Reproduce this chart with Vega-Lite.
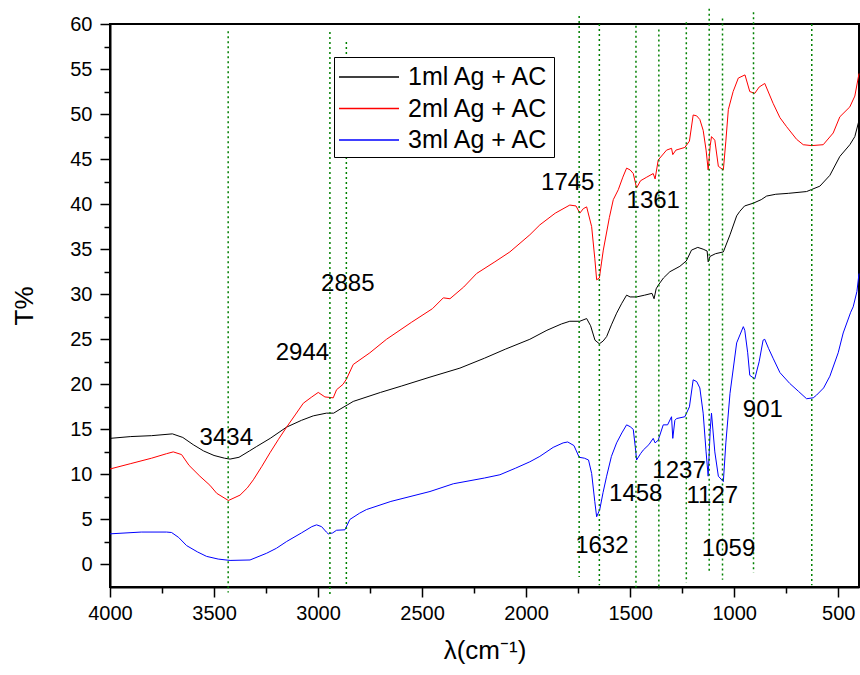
{
"$schema": "https://vega.github.io/schema/vega-lite/v6.json",
"width": 749, "height": 563,
"autosize": {"type": "none"},
"padding": {"left": 110, "top": 24, "right": 1, "bottom": 88},
"background": "white",
"config": {
  "view": {"stroke": "black", "strokeWidth": 2},
  "font": "Liberation Sans",
  "axis": {"grid": false, "labelFont": "Liberation Sans", "titleFont": "Liberation Sans", "labelColor": "black", "titleColor": "black", "tickColor": "black", "domainColor": "black", "labelFlush": false, "labelOverlap": false}
},
"datasets": {
"spectra": [
{"s":"1ml Ag + AC","wn":4000,"T":14.0},{"s":"1ml Ag + AC","wn":3900,"T":14.2},{"s":"1ml Ag + AC","wn":3800,"T":14.3},{"s":"1ml Ag + AC","wn":3700,"T":14.5},{"s":"1ml Ag + AC","wn":3650,"T":14.1},{"s":"1ml Ag + AC","wn":3600,"T":13.3},{"s":"1ml Ag + AC","wn":3550,"T":12.6},{"s":"1ml Ag + AC","wn":3500,"T":12.1},{"s":"1ml Ag + AC","wn":3450,"T":11.8},{"s":"1ml Ag + AC","wn":3423,"T":11.7},{"s":"1ml Ag + AC","wn":3380,"T":11.9},{"s":"1ml Ag + AC","wn":3330,"T":12.6},{"s":"1ml Ag + AC","wn":3295,"T":13.1},{"s":"1ml Ag + AC","wn":3230,"T":14.0},{"s":"1ml Ag + AC","wn":3151,"T":15.25},{"s":"1ml Ag + AC","wn":3080,"T":16.0},{"s":"1ml Ag + AC","wn":3023,"T":16.5},{"s":"1ml Ag + AC","wn":2960,"T":16.8},{"s":"1ml Ag + AC","wn":2925,"T":16.8},{"s":"1ml Ag + AC","wn":2890,"T":17.3},{"s":"1ml Ag + AC","wn":2860,"T":17.7},{"s":"1ml Ag + AC","wn":2831,"T":18.1},{"s":"1ml Ag + AC","wn":2700,"T":19.1},{"s":"1ml Ag + AC","wn":2600,"T":19.8},{"s":"1ml Ag + AC","wn":2462,"T":20.8},{"s":"1ml Ag + AC","wn":2318,"T":21.8},{"s":"1ml Ag + AC","wn":2200,"T":22.9},{"s":"1ml Ag + AC","wn":2100,"T":23.9},{"s":"1ml Ag + AC","wn":1982,"T":25.0},{"s":"1ml Ag + AC","wn":1900,"T":26.0},{"s":"1ml Ag + AC","wn":1830,"T":26.7},{"s":"1ml Ag + AC","wn":1790,"T":27.0},{"s":"1ml Ag + AC","wn":1742,"T":27.0},{"s":"1ml Ag + AC","wn":1709,"T":27.3},{"s":"1ml Ag + AC","wn":1690,"T":26.5},{"s":"1ml Ag + AC","wn":1669,"T":24.9},{"s":"1ml Ag + AC","wn":1648,"T":24.5},{"s":"1ml Ag + AC","wn":1630,"T":24.8},{"s":"1ml Ag + AC","wn":1613,"T":25.3},{"s":"1ml Ag + AC","wn":1590,"T":26.6},{"s":"1ml Ag + AC","wn":1565,"T":27.9},{"s":"1ml Ag + AC","wn":1540,"T":29.0},{"s":"1ml Ag + AC","wn":1517,"T":29.9},{"s":"1ml Ag + AC","wn":1500,"T":29.7},{"s":"1ml Ag + AC","wn":1469,"T":29.7},{"s":"1ml Ag + AC","wn":1430,"T":29.9},{"s":"1ml Ag + AC","wn":1395,"T":30.1},{"s":"1ml Ag + AC","wn":1385,"T":29.5},{"s":"1ml Ag + AC","wn":1375,"T":30.6},{"s":"1ml Ag + AC","wn":1365,"T":31.0},{"s":"1ml Ag + AC","wn":1340,"T":31.8},{"s":"1ml Ag + AC","wn":1309,"T":32.5},{"s":"1ml Ag + AC","wn":1261,"T":33.1},{"s":"1ml Ag + AC","wn":1230,"T":33.7},{"s":"1ml Ag + AC","wn":1205,"T":34.9},{"s":"1ml Ag + AC","wn":1175,"T":35.2},{"s":"1ml Ag + AC","wn":1149,"T":35.0},{"s":"1ml Ag + AC","wn":1130,"T":34.8},{"s":"1ml Ag + AC","wn":1125,"T":33.6},{"s":"1ml Ag + AC","wn":1116,"T":34.2},{"s":"1ml Ag + AC","wn":1090,"T":34.5},{"s":"1ml Ag + AC","wn":1052,"T":34.7},{"s":"1ml Ag + AC","wn":1020,"T":36.6},{"s":"1ml Ag + AC","wn":988,"T":38.7},{"s":"1ml Ag + AC","wn":973,"T":39.2},{"s":"1ml Ag + AC","wn":950,"T":39.8},{"s":"1ml Ag + AC","wn":909,"T":40.1},{"s":"1ml Ag + AC","wn":870,"T":40.5},{"s":"1ml Ag + AC","wn":844,"T":40.9},{"s":"1ml Ag + AC","wn":800,"T":41.1},{"s":"1ml Ag + AC","wn":740,"T":41.2},{"s":"1ml Ag + AC","wn":652,"T":41.4},{"s":"1ml Ag + AC","wn":588,"T":42.0},{"s":"1ml Ag + AC","wn":540,"T":43.2},{"s":"1ml Ag + AC","wn":492,"T":45.3},{"s":"1ml Ag + AC","wn":444,"T":46.6},{"s":"1ml Ag + AC","wn":420,"T":47.5},{"s":"1ml Ag + AC","wn":400,"T":49.3},
{"s":"2ml Ag + AC","wn":4000,"T":10.6},{"s":"2ml Ag + AC","wn":3900,"T":11.2},{"s":"2ml Ag + AC","wn":3800,"T":11.8},{"s":"2ml Ag + AC","wn":3728,"T":12.3},{"s":"2ml Ag + AC","wn":3696,"T":12.5},{"s":"2ml Ag + AC","wn":3656,"T":12.2},{"s":"2ml Ag + AC","wn":3620,"T":11.0},{"s":"2ml Ag + AC","wn":3568,"T":9.8},{"s":"2ml Ag + AC","wn":3520,"T":8.8},{"s":"2ml Ag + AC","wn":3487,"T":7.9},{"s":"2ml Ag + AC","wn":3431,"T":7.1},{"s":"2ml Ag + AC","wn":3375,"T":7.7},{"s":"2ml Ag + AC","wn":3340,"T":8.5},{"s":"2ml Ag + AC","wn":3311,"T":9.4},{"s":"2ml Ag + AC","wn":3270,"T":10.9},{"s":"2ml Ag + AC","wn":3231,"T":12.4},{"s":"2ml Ag + AC","wn":3190,"T":13.9},{"s":"2ml Ag + AC","wn":3151,"T":15.25},{"s":"2ml Ag + AC","wn":3110,"T":16.6},{"s":"2ml Ag + AC","wn":3071,"T":17.9},{"s":"2ml Ag + AC","wn":3030,"T":18.6},{"s":"2ml Ag + AC","wn":2999,"T":19.1},{"s":"2ml Ag + AC","wn":2967,"T":18.6},{"s":"2ml Ag + AC","wn":2927,"T":18.5},{"s":"2ml Ag + AC","wn":2911,"T":19.4},{"s":"2ml Ag + AC","wn":2880,"T":20.0},{"s":"2ml Ag + AC","wn":2863,"T":20.6},{"s":"2ml Ag + AC","wn":2831,"T":22.2},{"s":"2ml Ag + AC","wn":2751,"T":23.5},{"s":"2ml Ag + AC","wn":2671,"T":25.0},{"s":"2ml Ag + AC","wn":2550,"T":26.9},{"s":"2ml Ag + AC","wn":2450,"T":28.4},{"s":"2ml Ag + AC","wn":2398,"T":29.6},{"s":"2ml Ag + AC","wn":2366,"T":29.5},{"s":"2ml Ag + AC","wn":2300,"T":30.8},{"s":"2ml Ag + AC","wn":2238,"T":32.3},{"s":"2ml Ag + AC","wn":2150,"T":33.6},{"s":"2ml Ag + AC","wn":2078,"T":34.7},{"s":"2ml Ag + AC","wn":1982,"T":36.6},{"s":"2ml Ag + AC","wn":1934,"T":37.7},{"s":"2ml Ag + AC","wn":1860,"T":39.0},{"s":"2ml Ag + AC","wn":1790,"T":39.9},{"s":"2ml Ag + AC","wn":1760,"T":39.8},{"s":"2ml Ag + AC","wn":1742,"T":39.0},{"s":"2ml Ag + AC","wn":1725,"T":39.5},{"s":"2ml Ag + AC","wn":1709,"T":39.7},{"s":"2ml Ag + AC","wn":1685,"T":37.5},{"s":"2ml Ag + AC","wn":1670,"T":34.0},{"s":"2ml Ag + AC","wn":1661,"T":31.6},{"s":"2ml Ag + AC","wn":1648,"T":31.8},{"s":"2ml Ag + AC","wn":1629,"T":34.9},{"s":"2ml Ag + AC","wn":1600,"T":38.5},{"s":"2ml Ag + AC","wn":1581,"T":40.5},{"s":"2ml Ag + AC","wn":1557,"T":41.6},{"s":"2ml Ag + AC","wn":1535,"T":43.0},{"s":"2ml Ag + AC","wn":1517,"T":44.0},{"s":"2ml Ag + AC","wn":1500,"T":43.8},{"s":"2ml Ag + AC","wn":1485,"T":43.4},{"s":"2ml Ag + AC","wn":1469,"T":41.8},{"s":"2ml Ag + AC","wn":1450,"T":42.6},{"s":"2ml Ag + AC","wn":1420,"T":43.0},{"s":"2ml Ag + AC","wn":1389,"T":43.4},{"s":"2ml Ag + AC","wn":1380,"T":42.8},{"s":"2ml Ag + AC","wn":1365,"T":44.9},{"s":"2ml Ag + AC","wn":1325,"T":46.0},{"s":"2ml Ag + AC","wn":1301,"T":46.2},{"s":"2ml Ag + AC","wn":1295,"T":45.5},{"s":"2ml Ag + AC","wn":1280,"T":46.0},{"s":"2ml Ag + AC","wn":1237,"T":46.3},{"s":"2ml Ag + AC","wn":1215,"T":47.0},{"s":"2ml Ag + AC","wn":1197,"T":49.9},{"s":"2ml Ag + AC","wn":1180,"T":49.8},{"s":"2ml Ag + AC","wn":1165,"T":49.4},{"s":"2ml Ag + AC","wn":1149,"T":48.2},{"s":"2ml Ag + AC","wn":1135,"T":46.0},{"s":"2ml Ag + AC","wn":1125,"T":43.8},{"s":"2ml Ag + AC","wn":1115,"T":46.5},{"s":"2ml Ag + AC","wn":1109,"T":47.5},{"s":"2ml Ag + AC","wn":1093,"T":47.1},{"s":"2ml Ag + AC","wn":1076,"T":44.2},{"s":"2ml Ag + AC","wn":1052,"T":43.8},{"s":"2ml Ag + AC","wn":1040,"T":47.0},{"s":"2ml Ag + AC","wn":1028,"T":50.5},{"s":"2ml Ag + AC","wn":1005,"T":52.5},{"s":"2ml Ag + AC","wn":980,"T":54.0},{"s":"2ml Ag + AC","wn":948,"T":54.35},{"s":"2ml Ag + AC","wn":925,"T":52.5},{"s":"2ml Ag + AC","wn":901,"T":52.3},{"s":"2ml Ag + AC","wn":880,"T":53.0},{"s":"2ml Ag + AC","wn":853,"T":53.4},{"s":"2ml Ag + AC","wn":813,"T":51.2},{"s":"2ml Ag + AC","wn":780,"T":49.6},{"s":"2ml Ag + AC","wn":748,"T":48.6},{"s":"2ml Ag + AC","wn":700,"T":47.2},{"s":"2ml Ag + AC","wn":668,"T":46.6},{"s":"2ml Ag + AC","wn":628,"T":46.5},{"s":"2ml Ag + AC","wn":572,"T":46.6},{"s":"2ml Ag + AC","wn":524,"T":47.9},{"s":"2ml Ag + AC","wn":492,"T":49.7},{"s":"2ml Ag + AC","wn":444,"T":50.8},{"s":"2ml Ag + AC","wn":420,"T":52.0},{"s":"2ml Ag + AC","wn":400,"T":54.5},
{"s":"3ml Ag + AC","wn":4000,"T":3.4},{"s":"3ml Ag + AC","wn":3850,"T":3.6},{"s":"3ml Ag + AC","wn":3728,"T":3.6},{"s":"3ml Ag + AC","wn":3704,"T":3.55},{"s":"3ml Ag + AC","wn":3670,"T":3.0},{"s":"3ml Ag + AC","wn":3632,"T":2.1},{"s":"3ml Ag + AC","wn":3580,"T":1.4},{"s":"3ml Ag + AC","wn":3536,"T":0.9},{"s":"3ml Ag + AC","wn":3480,"T":0.6},{"s":"3ml Ag + AC","wn":3423,"T":0.45},{"s":"3ml Ag + AC","wn":3327,"T":0.5},{"s":"3ml Ag + AC","wn":3247,"T":1.25},{"s":"3ml Ag + AC","wn":3200,"T":1.8},{"s":"3ml Ag + AC","wn":3151,"T":2.55},{"s":"3ml Ag + AC","wn":3080,"T":3.5},{"s":"3ml Ag + AC","wn":3030,"T":4.2},{"s":"3ml Ag + AC","wn":3007,"T":4.4},{"s":"3ml Ag + AC","wn":2983,"T":4.2},{"s":"3ml Ag + AC","wn":2960,"T":3.6},{"s":"3ml Ag + AC","wn":2951,"T":3.4},{"s":"3ml Ag + AC","wn":2930,"T":3.5},{"s":"3ml Ag + AC","wn":2911,"T":3.8},{"s":"3ml Ag + AC","wn":2871,"T":3.85},{"s":"3ml Ag + AC","wn":2847,"T":5.0},{"s":"3ml Ag + AC","wn":2800,"T":5.7},{"s":"3ml Ag + AC","wn":2767,"T":6.1},{"s":"3ml Ag + AC","wn":2650,"T":7.0},{"s":"3ml Ag + AC","wn":2462,"T":8.1},{"s":"3ml Ag + AC","wn":2350,"T":8.96},{"s":"3ml Ag + AC","wn":2200,"T":9.6},{"s":"3ml Ag + AC","wn":2126,"T":9.96},{"s":"3ml Ag + AC","wn":2050,"T":10.7},{"s":"3ml Ag + AC","wn":1982,"T":11.4},{"s":"3ml Ag + AC","wn":1934,"T":12.0},{"s":"3ml Ag + AC","wn":1870,"T":13.0},{"s":"3ml Ag + AC","wn":1822,"T":13.5},{"s":"3ml Ag + AC","wn":1800,"T":13.6},{"s":"3ml Ag + AC","wn":1770,"T":13.2},{"s":"3ml Ag + AC","wn":1745,"T":11.9},{"s":"3ml Ag + AC","wn":1720,"T":11.8},{"s":"3ml Ag + AC","wn":1700,"T":11.6},{"s":"3ml Ag + AC","wn":1685,"T":10.1},{"s":"3ml Ag + AC","wn":1670,"T":7.0},{"s":"3ml Ag + AC","wn":1661,"T":5.3},{"s":"3ml Ag + AC","wn":1646,"T":6.1},{"s":"3ml Ag + AC","wn":1630,"T":8.0},{"s":"3ml Ag + AC","wn":1613,"T":9.8},{"s":"3ml Ag + AC","wn":1590,"T":12.0},{"s":"3ml Ag + AC","wn":1565,"T":13.5},{"s":"3ml Ag + AC","wn":1540,"T":14.6},{"s":"3ml Ag + AC","wn":1517,"T":15.5},{"s":"3ml Ag + AC","wn":1500,"T":15.3},{"s":"3ml Ag + AC","wn":1485,"T":15.0},{"s":"3ml Ag + AC","wn":1475,"T":13.0},{"s":"3ml Ag + AC","wn":1469,"T":11.6},{"s":"3ml Ag + AC","wn":1450,"T":12.3},{"s":"3ml Ag + AC","wn":1437,"T":12.7},{"s":"3ml Ag + AC","wn":1410,"T":13.3},{"s":"3ml Ag + AC","wn":1389,"T":14.0},{"s":"3ml Ag + AC","wn":1380,"T":13.5},{"s":"3ml Ag + AC","wn":1365,"T":13.8},{"s":"3ml Ag + AC","wn":1341,"T":15.5},{"s":"3ml Ag + AC","wn":1320,"T":15.5},{"s":"3ml Ag + AC","wn":1301,"T":16.4},{"s":"3ml Ag + AC","wn":1295,"T":14.0},{"s":"3ml Ag + AC","wn":1285,"T":16.0},{"s":"3ml Ag + AC","wn":1277,"T":16.2},{"s":"3ml Ag + AC","wn":1237,"T":16.4},{"s":"3ml Ag + AC","wn":1215,"T":17.5},{"s":"3ml Ag + AC","wn":1197,"T":20.5},{"s":"3ml Ag + AC","wn":1180,"T":20.3},{"s":"3ml Ag + AC","wn":1165,"T":19.6},{"s":"3ml Ag + AC","wn":1149,"T":16.8},{"s":"3ml Ag + AC","wn":1135,"T":12.5},{"s":"3ml Ag + AC","wn":1125,"T":9.8},{"s":"3ml Ag + AC","wn":1115,"T":15.0},{"s":"3ml Ag + AC","wn":1109,"T":16.8},{"s":"3ml Ag + AC","wn":1093,"T":12.5},{"s":"3ml Ag + AC","wn":1076,"T":9.8},{"s":"3ml Ag + AC","wn":1052,"T":9.2},{"s":"3ml Ag + AC","wn":1040,"T":13.5},{"s":"3ml Ag + AC","wn":1020,"T":19.0},{"s":"3ml Ag + AC","wn":988,"T":24.6},{"s":"3ml Ag + AC","wn":956,"T":26.4},{"s":"3ml Ag + AC","wn":949,"T":26.0},{"s":"3ml Ag + AC","wn":935,"T":23.5},{"s":"3ml Ag + AC","wn":925,"T":21.0},{"s":"3ml Ag + AC","wn":901,"T":20.6},{"s":"3ml Ag + AC","wn":880,"T":22.5},{"s":"3ml Ag + AC","wn":861,"T":24.9},{"s":"3ml Ag + AC","wn":853,"T":25.0},{"s":"3ml Ag + AC","wn":835,"T":24.0},{"s":"3ml Ag + AC","wn":813,"T":22.9},{"s":"3ml Ag + AC","wn":780,"T":21.3},{"s":"3ml Ag + AC","wn":733,"T":20.1},{"s":"3ml Ag + AC","wn":690,"T":19.2},{"s":"3ml Ag + AC","wn":652,"T":18.4},{"s":"3ml Ag + AC","wn":620,"T":18.5},{"s":"3ml Ag + AC","wn":604,"T":18.8},{"s":"3ml Ag + AC","wn":570,"T":19.6},{"s":"3ml Ag + AC","wn":540,"T":20.9},{"s":"3ml Ag + AC","wn":500,"T":23.5},{"s":"3ml Ag + AC","wn":476,"T":25.7},{"s":"3ml Ag + AC","wn":440,"T":28.0},{"s":"3ml Ag + AC","wn":428,"T":28.6},{"s":"3ml Ag + AC","wn":410,"T":30.3},{"s":"3ml Ag + AC","wn":400,"T":32.3}
],
"peaks": [
{"wn":3432,"top":59.2,"bottom":-3.1},{"wn":2943,"top":59.1,"bottom":-3.4},{"wn":2864,"top":58.0,"bottom":-2.5},
{"wn":1745,"top":60.9,"bottom":-1.4},{"wn":1648,"top":60.0,"bottom":-2.3},{"wn":1472,"top":59.8,"bottom":-2.6},{"wn":1362,"top":59.4,"bottom":-2.8},{"wn":1230,"top":60.2,"bottom":-2.0},{"wn":1120,"top":61.7,"bottom":-0.8},{"wn":1056,"top":60.6,"bottom":-1.7},{"wn":907,"top":61.3,"bottom":-0.9},{"wn":627,"top":60.0,"bottom":-2.3}
],
"labels": [
{"t":"3434","wn":3441,"T":14.0},{"t":"2944","wn":3075,"T":23.5},{"t":"2885","wn":2857,"T":31.1},{"t":"1745","wn":1800,"T":42.4},{"t":"1361","wn":1389,"T":40.3},{"t":"1632","wn":1636,"T":2.0},{"t":"1458","wn":1473,"T":7.8},{"t":"1237","wn":1265,"T":10.4},{"t":"1127","wn":1105,"T":7.65},{"t":"1059","wn":1027,"T":1.76},{"t":"901","wn":862,"T":17.1}
]
},
"layer": [
{
  "data": {"name": "spectra"},
  "mark": {"type": "line", "strokeWidth": 1, "interpolate": "linear"},
  "encoding": {
    "x": {"field": "wn", "type": "quantitative",
      "scale": {"domain": [400, 4000], "reverse": true, "nice": false, "zero": false},
      "axis": {"orient": "bottom", "values": [4000,3500,3000,2500,2000,1500,1000,500], "format": "d", "tickSize": 10, "tickWidth": 1.5, "domainWidth": 2, "labelFontSize": 20, "labelPadding": 6, "title": "λ(cm⁻¹)", "titleFontSize": 26, "titleFontWeight": "normal", "titlePadding": 14}},
    "y": {"field": "T", "type": "quantitative",
      "scale": {"domain": [-2.5, 60], "nice": false, "zero": false},
      "axis": {"orient": "left", "values": [0,5,10,15,20,25,30,35,40,45,50,55,60], "format": "d", "tickSize": 10, "tickWidth": 1.5, "domainWidth": 2, "labelFontSize": 20, "labelPadding": 8, "title": "T%", "titleFontSize": 26, "titleFontWeight": "normal", "titlePadding": 32}},
    "color": {"field": "s", "type": "nominal",
      "scale": {"domain": ["1ml Ag + AC", "2ml Ag + AC", "3ml Ag + AC"], "range": ["#000000", "#ff0000", "#0000ff"]},
      "legend": {"title": null, "orient": "none", "legendX": 224, "legendY": 33, "symbolType": "M-1,0H3", "symbolSize": 900, "symbolStrokeWidth": 1.5, "symbolFillColor": "transparent", "labelFontSize": 25, "labelFont": "Liberation Sans", "labelColor": "black", "labelOffset": 38, "rowPadding": 2.5, "padding": 4, "strokeColor": "black", "fillColor": "white"}}
  }
},
{
  "data": {"name": "peaks"},
  "mark": {"type": "rule", "color": "#008000", "strokeWidth": 1.5, "strokeDash": [2, 3]},
  "encoding": {
    "x": {"field": "wn", "type": "quantitative",
      "scale": {"domain": [400, 4000], "reverse": true, "nice": false, "zero": false},
      "axis": {"orient": "bottom", "values": [3750,3250,2750,2250,1750,1250,750], "labels": false, "domain": false, "tickSize": 6, "tickWidth": 1.5, "title": null}},
    "y": {"field": "top", "type": "quantitative",
      "scale": {"domain": [-2.5, 60], "nice": false, "zero": false},
      "axis": {"orient": "left", "values": [2.5,7.5,12.5,17.5,22.5,27.5,32.5,37.5,42.5,47.5,52.5,57.5], "labels": false, "domain": false, "tickSize": 6, "tickWidth": 1.5, "title": null}},
    "y2": {"field": "bottom"}
  }
},
{
  "data": {"name": "labels"},
  "mark": {"type": "text", "fontSize": 24, "font": "Liberation Sans", "color": "black", "align": "center", "baseline": "middle"},
  "encoding": {
    "x": {"field": "wn", "type": "quantitative", "scale": {"domain": [400, 4000], "reverse": true, "nice": false, "zero": false}, "axis": null},
    "y": {"field": "T", "type": "quantitative", "scale": {"domain": [-2.5, 60], "nice": false, "zero": false}, "axis": null},
    "text": {"field": "t"}
  }
}
],
"resolve": {"axis": {"x": "independent", "y": "independent"}}
}
